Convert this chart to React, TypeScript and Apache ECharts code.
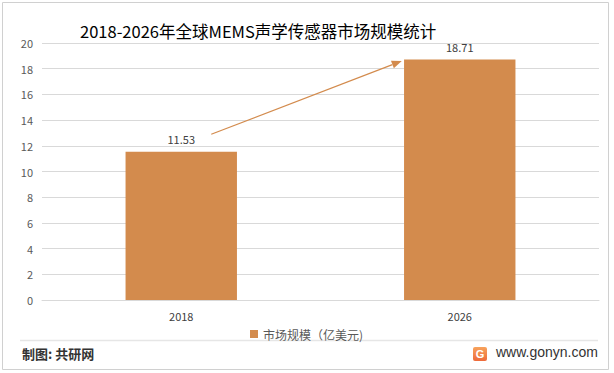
import React, { useEffect, useRef } from "react";
import * as echarts from "echarts";

const categories = ["2018", "2026"];
const marketSize = [11.53, 18.71];
const seriesName = "市场规模（亿美元)";
const titleText = "2018-2026年全球MEMS声学传感器市场规模统计";
const footerText = "制图: 共研网";
const siteText = "www.gonyn.com";
// arrow annotation endpoints (value space)
const arrowStartValue = 12.9;
const arrowEndValue = 18.6;

export default function App() {
  const ref = useRef<HTMLDivElement>(null);
  useEffect(() => {
    document.body.style.margin = "0";
    const chart = echarts.init(ref.current!, null, { renderer: "svg" });
    const font = "'Noto Sans CJK SC', 'Liberation Sans', sans-serif";
    chart.setOption({
      animation: false,
      backgroundColor: "#ffffff",
      textStyle: { fontFamily: font },
      grid: { left: 42, right: 15, top: 43, bottom: 73, containLabel: false },
      legend: {
        data: [seriesName],
        left: 245,
        top: 323,
        itemWidth: 8,
        itemHeight: 8,
        itemGap: 4,
        icon: "rect",
        textStyle: { fontSize: 12, color: "#595959", fontFamily: font },
      },
      xAxis: {
        type: "category",
        data: categories,
        axisLine: { lineStyle: { color: "#d9d9d9" } },
        axisTick: { show: false },
        axisLabel: { color: "#404040", fontSize: 11, margin: 10 },
      },
      yAxis: {
        type: "value",
        min: 0,
        max: 20,
        interval: 2,
        axisLine: { show: false },
        axisTick: { show: false },
        axisLabel: { color: "#595959", fontSize: 11, margin: 9 },
        splitLine: { lineStyle: { color: "#d9d9d9" } },
      },
      series: [
        {
          name: seriesName,
          type: "bar",
          data: marketSize,
          barWidth: "40%",
          itemStyle: { color: "#D38B4D" },
          label: {
            show: true,
            position: "top",
            distance: 7,
            color: "#404040",
            fontSize: 11,
            formatter: (p: any) => p.value.toFixed(2),
          },
        },
      ],
    });

    const p1 = chart.convertToPixel({ seriesIndex: 0 }, [categories[0], arrowStartValue]) as number[];
    const p2 = chart.convertToPixel({ seriesIndex: 0 }, [categories[1], arrowEndValue]) as number[];
    const x1 = p1[0] + 30;
    const y1 = p1[1];
    const x2 = p2[0] - 58;
    const y2 = p2[1];
    const ang = Math.atan2(y2 - y1, x2 - x1);
    const hl = 10;
    const hw = 4;
    const bx = x2 - hl * Math.cos(ang);
    const by = y2 - hl * Math.sin(ang);
    const nx = -Math.sin(ang);
    const ny = Math.cos(ang);
    const arrowColor = "#D38B4D";

    chart.setOption({
      graphic: [
        {
          type: "rect",
          shape: { x: 2.5, y: 2.5, width: 606, height: 367 },
          style: { fill: "none", stroke: "#d0d0d0", lineWidth: 1 },
          silent: true,
        },
        {
          type: "text",
          left: 80,
          top: 23,
          style: { text: titleText, fontSize: 16.5, fill: "#000000", fontFamily: font },
        },
        {
          type: "line",
          shape: { x1, y1, x2: bx, y2: by },
          style: { stroke: arrowColor, lineWidth: 1.2 },
        },
        {
          type: "polygon",
          shape: {
            points: [
              [x2, y2],
              [bx + nx * hw, by + ny * hw],
              [bx - nx * hw, by - ny * hw],
            ],
          },
          style: { fill: arrowColor },
        },
        {
          type: "line",
          shape: { x1: 20, y1: 340.5, x2: 598, y2: 340.5 },
          style: { stroke: "#e6e6e6", lineWidth: 1.5 },
        },
        {
          type: "text",
          left: 22,
          top: 347,
          style: { text: footerText, fontSize: 13, fontWeight: "bold", fill: "#333333", fontFamily: font },
        },
        {
          type: "rect",
          shape: { x: 473, y: 347, width: 14, height: 14, r: 2 },
          style: {
            fill: new echarts.graphic.LinearGradient(0, 0, 0, 1, [
              { offset: 0, color: "#F7A35C" },
              { offset: 1, color: "#EE6A3A" },
            ]),
          },
        },
        {
          type: "text",
          x: 480,
          y: 354,
          style: {
            text: "G",
            fontSize: 11,
            fontWeight: "bold",
            fill: "#ffffff",
            align: "center",
            verticalAlign: "middle",
            fontFamily: "'Liberation Sans', sans-serif",
          },
        },
        {
          type: "text",
          left: 496,
          top: 345,
          style: { text: siteText, fontSize: 14, fill: "#333333", fontFamily: "'Liberation Sans', sans-serif" },
        },
      ],
    });
    return () => chart.dispose();
  }, []);
  return <div ref={ref} style={{ width: 614, height: 373 }} />;
}
